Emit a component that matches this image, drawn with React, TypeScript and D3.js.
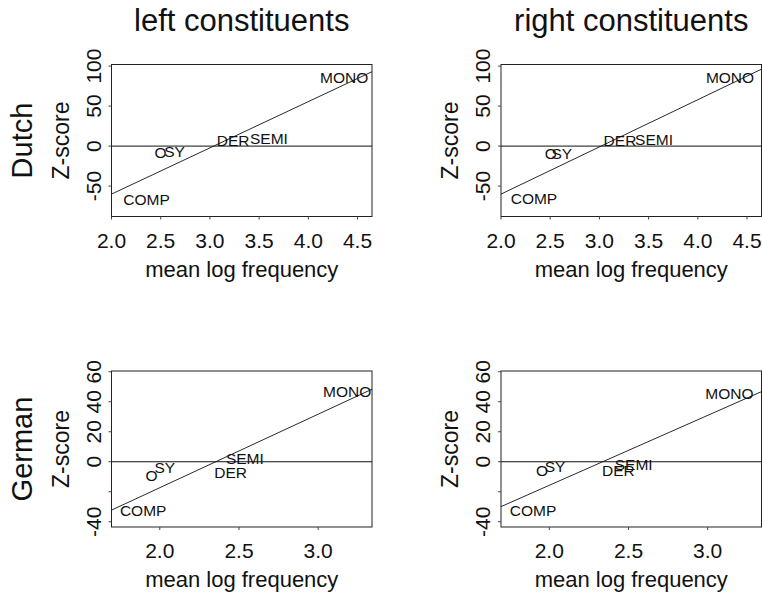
import React from "react";
import * as d3 from "d3";

const categories = ["COMP", "O", "SY", "DER", "SEMI", "MONO"];
const dutchLeftX = [2.356, 2.498, 2.64, 3.236, 3.6, 4.364];
const dutchLeftY = [-66.6, -8.4, -7.1, 7.5, 9.6, 85.9];
const dutchRightX = [2.335, 2.505, 2.617, 3.209, 3.555, 4.327];
const dutchRightY = [-65.4, -9.2, -9.2, 7.5, 8.4, 85.5];
const germanLeftX = [1.895, 1.948, 2.032, 2.447, 2.537, 3.183];
const germanLeftY = [-32.2, -8.9, -3.7, -7.3, 2.3, 46.7];
const germanRightX = [1.897, 1.954, 2.036, 2.436, 2.533, 3.137];
const germanRightY = [-32.3, -6.1, -3.2, -5.5, -1.7, 45.7];
const dutchLeftFit = [-175.6, 57.8];
const dutchRightFit = [-178, 59];
const germanLeftFit = [-115.3, 49];
const germanRightFit = [-108.9, 46.6];
const dutchXTicks = [2.0, 2.5, 3.0, 3.5, 4.0, 4.5];
const dutchYTicks = [-50, 0, 50, 100];
const dutchYTickLabels = ["-50", "0", "50", "100"];
const germanXTicks = [2.0, 2.5, 3.0];
const germanYTicks = [-40, -20, 0, 20, 40, 60];
const germanYTickLabels = ["-40", "", "0", "20", "40", "60"];
const dutchXDomain = [2.0, 4.647];
const dutchYDomain = [-88, 102];
const germanXDomain = [1.695, 3.34];
const germanYDomain = [-43.5, 60.5];
const columnTitles = ["left constituents", "right constituents"];
const rowTitles = ["Dutch", "German"];
const xAxisTitle = "mean log frequency";
const yAxisTitle = "Z-score";

const FONT = "'Liberation Sans', Arial, Helvetica, sans-serif";
const colX = [
  [111.5, 372],
  [501, 761.5],
];
const rowY = [
  [64.5, 216.5],
  [371, 527],
];

type PanelProps = {
  col: number;
  row: number;
  xs: number[];
  ys: number[];
  fit: number[];
  xDomain: number[];
  yDomain: number[];
  xTicks: number[];
  yTicks: number[];
  yTickLabels: string[];
};

function Panel(p: PanelProps) {
  const [x0, x1] = colX[p.col];
  const [y0, y1] = rowY[p.row];
  const x = d3.scaleLinear().domain(p.xDomain).range([x0, x1]);
  const y = d3.scaleLinear().domain(p.yDomain).range([y1, y0]);
  const line = d3
    .line<number>()
    .x((d) => x(d))
    .y((d) => y(p.fit[0] + p.fit[1] * d));
  const fitPath = line([p.xDomain[0], p.xDomain[1]]) || "";
  const zeroPath =
    d3.line<number>().x((d) => x(d)).y(() => y(0))([p.xDomain[0], p.xDomain[1]]) || "";
  const fmt = d3.format(".1f");
  return (
    <g>
      <rect x={x0} y={y0} width={x1 - x0} height={y1 - y0} fill="none" stroke="#222" strokeWidth={1} />
      <path d={zeroPath} stroke="#111" strokeWidth={1} fill="none" />
      <path d={fitPath} stroke="#111" strokeWidth={0.9} fill="none" />
      {p.xTicks.map((t) => (
        <g key={"xt" + t}>
          <line x1={x(t)} x2={x(t)} y1={y1} y2={y1 + 3} stroke="#444" strokeWidth={1} />
          <text x={x(t)} y={y1 + 31} textAnchor="middle" fontSize={21} fontFamily={FONT} fill="#111">
            {fmt(t)}
          </text>
        </g>
      ))}
      {p.yTicks.map((t, i) => (
        <g key={"yt" + t}>
          <line x1={x0 - 3} x2={x0} y1={y(t)} y2={y(t)} stroke="#444" strokeWidth={1} />
          <text
            transform={`translate(${x0 - 11},${y(t)}) rotate(-90)`}
            textAnchor="middle"
            fontSize={21}
            fontFamily={FONT}
            fill="#111"
          >
            {p.yTickLabels[i]}
          </text>
        </g>
      ))}
      <text
        x={(x0 + x1) / 2}
        y={y1 + 60}
        textAnchor="middle"
        fontSize={22}
        fontFamily={FONT}
        fill="#111"
      >
        {xAxisTitle}
      </text>
      <text
        transform={`translate(${x0 - 43},${(y0 + y1) / 2}) rotate(-90)`}
        textAnchor="middle"
        fontSize={23}
        fontFamily={FONT}
        fill="#111"
      >
        {yAxisTitle}
      </text>
      {categories.map((c, i) => (
        <text
          key={c}
          x={x(p.xs[i])}
          y={y(p.ys[i])}
          dy="0.36em"
          textAnchor="middle"
          fontSize={15.5}
          fontFamily={FONT}
          fill="#111"
        >
          {c}
        </text>
      ))}
    </g>
  );
}

export default function App() {
  return (
    <svg
      width={762}
      height={597}
      style={{ position: "absolute", left: 0, top: 0, background: "#fff" }}
    >
      <rect x={0} y={0} width={762} height={597} fill="#fff" />
      {columnTitles.map((t, i) => (
        <text
          key={t}
          x={(colX[i][0] + colX[i][1]) / 2}
          y={31}
          textAnchor="middle"
          fontSize={31}
          fontFamily={FONT}
          fill="#111"
        >
          {t}
        </text>
      ))}
      {rowTitles.map((t, i) => (
        <text
          key={t}
          transform={`translate(32,${(rowY[i][0] + rowY[i][1]) / 2}) rotate(-90)`}
          textAnchor="middle"
          fontSize={29}
          fontFamily={FONT}
          fill="#111"
        >
          {t}
        </text>
      ))}
      <Panel col={0} row={0} xs={dutchLeftX} ys={dutchLeftY} fit={dutchLeftFit} xDomain={dutchXDomain} yDomain={dutchYDomain} xTicks={dutchXTicks} yTicks={dutchYTicks} yTickLabels={dutchYTickLabels} />
      <Panel col={1} row={0} xs={dutchRightX} ys={dutchRightY} fit={dutchRightFit} xDomain={dutchXDomain} yDomain={dutchYDomain} xTicks={dutchXTicks} yTicks={dutchYTicks} yTickLabels={dutchYTickLabels} />
      <Panel col={0} row={1} xs={germanLeftX} ys={germanLeftY} fit={germanLeftFit} xDomain={germanXDomain} yDomain={germanYDomain} xTicks={germanXTicks} yTicks={germanYTicks} yTickLabels={germanYTickLabels} />
      <Panel col={1} row={1} xs={germanRightX} ys={germanRightY} fit={germanRightFit} xDomain={germanXDomain} yDomain={germanYDomain} xTicks={germanXTicks} yTicks={germanYTicks} yTickLabels={germanYTickLabels} />
    </svg>
  );
}
